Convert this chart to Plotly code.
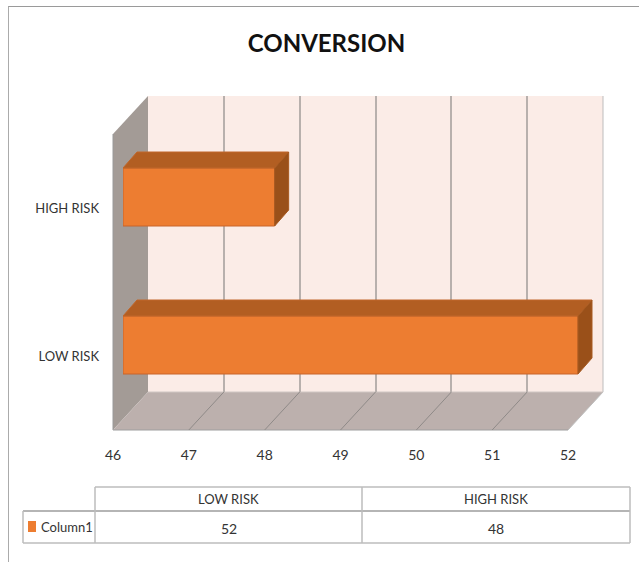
import plotly.graph_objects as go

TITLE = "CONVERSION"
categories = ["LOW RISK", "HIGH RISK"]
values = [52, 48]
series_name = "Column1"
x_ticks = [46, 47, 48, 49, 50, 51, 52]
X_MIN, X_MAX = 46, 52

W, H = 639, 562
FONT = "Lato, Open Sans, sans-serif"
ORANGE, TOP, SIDE = "#ED7D31", "#B25E22", "#9A5019"
TXT = "#333333"


def px(x):
    return x / W


def py(y):
    return 1 - y / H


def dom(a, b, size):
    return [a / size, b / size]


fig = go.Figure()
UNIT = (568 - 113) / (X_MAX - X_MIN)
CAT_STEP = 148.0
BAR_H = 58.0
BAR_W = BAR_H / CAT_STEP
DX, DY = 14 / UNIT, 16 / CAT_STEP

# grid-only and tick-only axes (drawn beneath the bars' subplot)
fig.add_trace(go.Scatter(x=[46, 52], y=[0, 1], xaxis="x", yaxis="y", mode="none",
                         showlegend=False, hoverinfo="skip"))
fig.add_trace(go.Scatter(x=[46, 52], y=[0, 1], xaxis="x2", yaxis="y2", mode="none",
                         showlegend=False, hoverinfo="skip"))

# faces of the 3-D bars, on the bars' own axes
for i, v in enumerate(values):
    t, b = i + BAR_W / 2, i - BAR_W / 2
    fig.add_trace(go.Scatter(
        x=[X_MIN, v, v + DX, X_MIN + DX, X_MIN], y=[t, t, t + DY, t + DY, t],
        fill="toself", fillcolor=TOP, mode="lines", line=dict(color="#C0662A", width=1),
        xaxis="x3", yaxis="y3", showlegend=False, hoverinfo="skip"))
    fig.add_trace(go.Scatter(
        x=[v, v + DX, v + DX, v, v], y=[t, t + DY, b + DY, b, t],
        fill="toself", fillcolor=SIDE, mode="lines", line=dict(color="#A85A20", width=1),
        xaxis="x3", yaxis="y3", showlegend=False, hoverinfo="skip"))

fig.add_trace(go.Bar(
    y=list(range(len(categories))), x=[v - X_MIN for v in values], base=X_MIN,
    orientation="h", width=BAR_W, name=series_name,
    marker=dict(color=ORANGE, line=dict(color="#C8642A", width=1)),
    xaxis="x3", yaxis="y3", showlegend=False))

shapes = []


def poly(points, fill, line="rgba(0,0,0,0)", w=0, layer="below"):
    path = "M " + " L ".join(f"{px(a):.5f},{py(b):.5f}" for a, b in points) + " Z"
    shapes.append(dict(type="path", xref="paper", yref="paper", path=path, fillcolor=fill,
                       line=dict(color=line, width=w), layer=layer))


def seg(x0, y0, x1, y1, color, w=1, layer="below"):
    shapes.append(dict(type="line", xref="paper", yref="paper", x0=px(x0), y0=py(y0),
                       x1=px(x1), y1=py(y1), line=dict(color=color, width=w), layer=layer))


# outer frame
seg(8.5, 6, 8.5, 562, "#ABABAB")
seg(8.5, 6.5, 639, 6.5, "#9A9A9A")

# chart box
poly([(148, 96), (603, 96), (603, 392), (148, 392)], "#FBECE7")
poly([(113, 134), (148, 96), (148, 392), (113, 430)], "#A39B96")
poly([(113, 430), (148, 392), (603, 392), (568, 430)], "#BCB0AD")
seg(113, 134, 113, 430, "#9A9A9A")
seg(113, 430, 568, 430, "#9E9E9E")
seg(603, 96, 603, 392, "#BDBDBD")
seg(603, 392, 568, 430, "#BDBDBD")
seg(148, 392, 603, 392, "#CFC6C3")
for t in x_ticks[1:-1]:
    fx = 113 + (t - X_MIN) * UNIT
    seg(fx, 430, fx + 35, 392, "#8F8A88")

# data table
TBL = "#BDBDBD"
seg(95, 487, 630, 487, TBL, 1.5)
seg(23, 511, 630, 511, "#9C9C9C", 1.5)
seg(23, 543, 630, 543, TBL, 1.5)
seg(23, 511, 23, 543, TBL, 1.5)
seg(95, 487, 95, 543, TBL, 1.5)
seg(362, 487, 362, 543, TBL, 1.5)
seg(630, 487, 630, 543, TBL, 1.5)
shapes.append(dict(type="rect", xref="paper", yref="paper", x0=px(28), x1=px(36),
                   y0=py(532), y1=py(521), fillcolor=ORANGE, line=dict(width=0)))

ann = []


def label(x, y, text, size=14, color=TXT, anchor="center"):
    ann.append(dict(xref="paper", yref="paper", x=px(x), y=py(y), text=text,
                    showarrow=False, xanchor=anchor, yanchor="middle",
                    font=dict(family=FONT, size=size, color=color)))


label(228.5, 499, categories[0], 13)
label(496, 499, categories[1], 13)
label(228.5, 528, str(values[0]))
label(496, 528, str(values[1]))
label(39, 527, series_name, 13, anchor="left")

BAR_RANGE_END = X_MIN + (605 - 123) / UNIT

fig.update_layout(
    width=W, height=H, autosize=False,
    margin=dict(l=0, r=0, t=0, b=0, autoexpand=False),
    paper_bgcolor="white", plot_bgcolor="rgba(0,0,0,0)",
    showlegend=False, barmode="overlay",
    title=dict(text=f"<b>{TITLE}</b>", x=326.5 / W, xanchor="center", y=1 - 44 / H, yanchor="middle",
               font=dict(family=FONT, size=24, color="#111111")),
    shapes=shapes, annotations=ann,
    # back-wall grid
    xaxis=dict(domain=dom(148, 603, W), range=[X_MIN, X_MAX], anchor="y", tickvals=x_ticks[1:-1],
               showticklabels=False, showgrid=True, gridcolor="#B8B0AD", gridwidth=1.5, zeroline=False,
               showline=False, ticks="", fixedrange=True, automargin=False),
    yaxis=dict(domain=dom(H - 392, H - 96, H), range=[0, 1], anchor="x", visible=False,
               fixedrange=True, automargin=False),
    # tick labels
    xaxis2=dict(domain=dom(113, 568, W), range=[X_MIN, X_MAX], anchor="y2", side="bottom",
                tickvals=x_ticks, showgrid=False, zeroline=False, showline=False, ticks="",
                tickfont=dict(family=FONT, size=14, color=TXT), fixedrange=True, automargin=False,
                ticklabelstandoff=15),
    yaxis2=dict(domain=dom(H - 430, H - 134, H), range=[-0.5, 1.5], anchor="x2",
                tickvals=[0, 1], ticktext=categories, showgrid=False, zeroline=False, showline=False,
                ticks="", tickfont=dict(family=FONT, size=13, color=TXT), fixedrange=True, automargin=False,
                ticklabelstandoff=13),
    # bars: front face plane, with room for the depth faces
    xaxis3=dict(domain=dom(123, 605, W), range=[X_MIN, BAR_RANGE_END], anchor="y3", visible=False,
                fixedrange=True, automargin=False),
    yaxis3=dict(domain=dom(H - 419, H - 123, H), range=[-0.5, 1.5], anchor="x3", visible=False,
                fixedrange=True, automargin=False),
)

fig.write_html("out.html", config=dict(displayModeBar=False),
               post_script="document.body.style.margin='0';")
